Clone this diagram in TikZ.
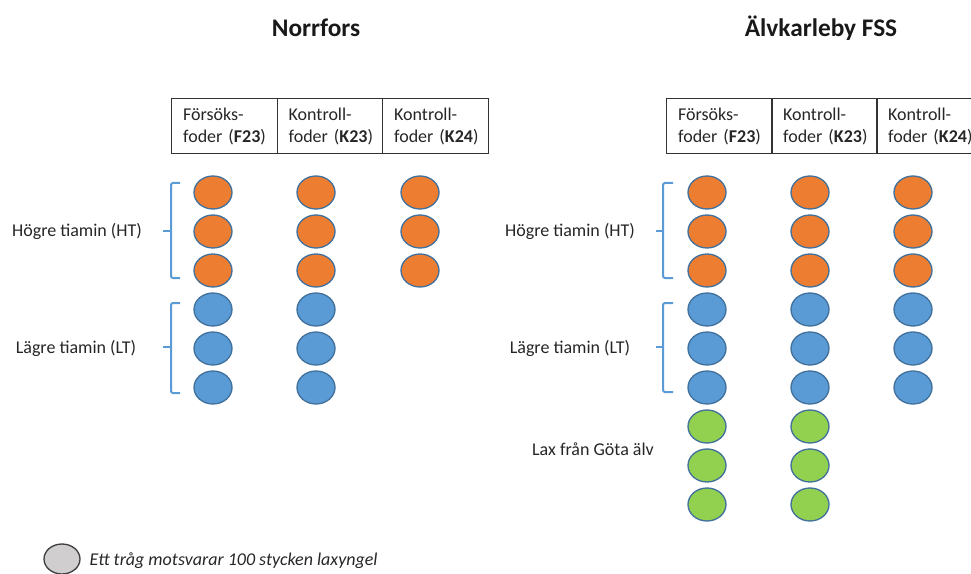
\documentclass[tikz,border=0pt]{standalone}
\usepackage{fontspec}
\setmainfont{Carlito}
\usepackage{tikz}
\usetikzlibrary{shapes.geometric}
\definecolor{fishorange}{HTML}{ED7D31}
\definecolor{fishblue}{HTML}{5B9BD5}
\definecolor{fishgreen}{HTML}{92D050}
\definecolor{rimblue}{HTML}{41719C}
\definecolor{traggrey}{HTML}{D0CECE}
\tikzstyle{trag}=[ellipse, draw=rimblue, line width=1pt, minimum width=28.5pt, minimum height=24.75pt, inner sep=0pt]
\tikzstyle{ht}=[trag, fill=fishorange]
\tikzstyle{lt}=[trag, fill=fishblue]
\tikzstyle{gota}=[trag, fill=fishgreen]
\tikzstyle{foder}=[rectangle, draw=black!80, line width=0.75pt, minimum width=79pt, minimum height=41.25pt, text width=62pt, inner xsep=0pt, align=left, text=black!85, font=\fontsize{13.5}{17}\selectfont]
\tikzstyle{grupp}=[text=black!85, font=\fontsize{13.5}{16}\selectfont]
\tikzstyle{klammer}=[draw=fishblue, line width=1.5pt, rounded corners=1.5pt]
\tikzstyle{rubrik}=[anchor=base, text=black!90, font=\fontsize{19}{22}\selectfont\bfseries]

\begin{document}
\begin{tikzpicture}[x=0.75pt, y=-0.75pt]
\clip (0,0) rectangle (971,574);

% rubriker
\node[rubrik] (norr) at (316,37) {Norrfors};
\node[rubrik] (alv) at (821,37) {Älvkarleby FSS};

% Norrfors
\node[foder] (nF23) at (224.5,126.5) {Försöks-\\foder~(\textbf{F23})};
\node[foder] (nK23) at (330,126.5) {Kontroll-\\foder~(\textbf{K23})};
\node[foder] (nK24) at (435.5,126.5) {Kontroll-\\foder~(\textbf{K24})};

\node[grupp] (nHT) at (77,231) {Högre tiamin (HT)};
\node[grupp] (nLT) at (76,348) {Lägre tiamin (LT)};
\draw[klammer] (180,183) -- (171,183) -- (171,278) -- (180,278);
\draw[klammer] (171,231) -- (163,231);
\draw[klammer] (180,303) -- (171,303) -- (171,393) -- (180,393);
\draw[klammer] (171,347) -- (163,347);

\node[ht] (nF1) at (213,192.5) {};
\node[ht] (nF2) at (213,231.5) {};
\node[ht] (nF3) at (213,270.5) {};
\node[lt] (nF4) at (213,309.5) {};
\node[lt] (nF5) at (213,348.5) {};
\node[lt] (nF6) at (213,387.5) {};
\node[ht] (nK1) at (316,192.5) {};
\node[ht] (nK2) at (316,231.5) {};
\node[ht] (nK3) at (316,270.5) {};
\node[lt] (nK4) at (316,309.5) {};
\node[lt] (nK5) at (316,348.5) {};
\node[lt] (nK6) at (316,387.5) {};
\node[ht] (nL1) at (420,192.5) {};
\node[ht] (nL2) at (420,231.5) {};
\node[ht] (nL3) at (420,270.5) {};

% Alvkarleby
\node[foder] (aF23) at (719.5,126.5) {Försöks-\\foder~(\textbf{F23})};
\node[foder] (aK23) at (824.5,126.5) {Kontroll-\\foder~(\textbf{K23})};
\node[foder] (aK24) at (929.5,126.5) {Kontroll-\\foder~(\textbf{K24})};

\node[grupp] (aHT) at (570,231) {Högre tiamin (HT)};
\node[grupp] (aLT) at (570,348) {Lägre tiamin (LT)};
\node[grupp] (aGA) at (593,449) {Lax från Göta älv};
\draw[klammer] (673,183) -- (663,183) -- (663,278) -- (673,278);
\draw[klammer] (663,231) -- (656,231);
\draw[klammer] (673,303) -- (663,303) -- (663,392) -- (673,392);
\draw[klammer] (663,347) -- (656,347);

\node[ht] (aF1) at (707,192.5) {};
\node[ht] (aF2) at (707,231.5) {};
\node[ht] (aF3) at (707,270.5) {};
\node[lt] (aF4) at (707,309.5) {};
\node[lt] (aF5) at (707,348.5) {};
\node[lt] (aF6) at (707,387.5) {};
\node[gota] (aF7) at (707,426.5) {};
\node[gota] (aF8) at (707,465.5) {};
\node[gota] (aF9) at (707,504.5) {};
\node[ht] (aK1) at (810,192.5) {};
\node[ht] (aK2) at (810,231.5) {};
\node[ht] (aK3) at (810,270.5) {};
\node[lt] (aK4) at (810,309.5) {};
\node[lt] (aK5) at (810,348.5) {};
\node[lt] (aK6) at (810,387.5) {};
\node[gota] (aK7) at (810,426.5) {};
\node[gota] (aK8) at (810,465.5) {};
\node[gota] (aK9) at (810,504.5) {};
\node[ht] (aL1) at (913,192.5) {};
\node[ht] (aL2) at (913,231.5) {};
\node[ht] (aL3) at (913,270.5) {};
\node[lt] (aL4) at (913,309.5) {};
\node[lt] (aL5) at (913,348.5) {};
\node[lt] (aL6) at (913,387.5) {};

% forklaring
\node[trag, draw=black!75, fill=traggrey, minimum width=27pt, minimum height=22.5pt] (ett) at (62,559) {};
\node[grupp, anchor=west, font=\fontsize{13.5}{16}\selectfont\itshape] (ettText) at (85,561) {Ett tråg motsvarar 100 stycken laxyngel};
\end{tikzpicture}
\end{document}
